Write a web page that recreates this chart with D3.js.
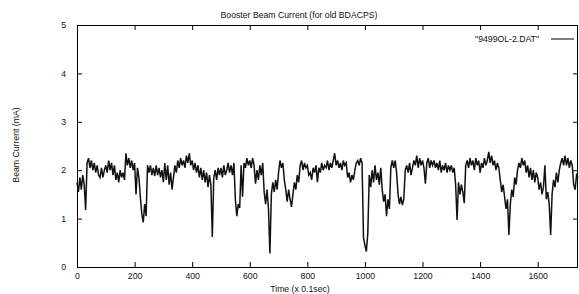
<!DOCTYPE html>
<html>
<head>
  <title>Booster Beam Current</title>
  <script src="https://cdn.jsdelivr.net/npm/d3@7.0.0/dist/d3.min.js"></script>
  <style>
    body { margin: 0; background: #fff; }
    text { font-family: "Liberation Sans", Arial, sans-serif; fill: #111; }
  </style>
</head>
<body>
  <div id="svgContainer"></div>

  <script>
    // Beam current (mA), one sample every 5 time units (x 0.1sec)
    var timeStep = 5;
    var current = [
      1.75, 1.55, 1.85, 1.6, 1.9, 1.7, 1.18, 2.15, 2.25, 2.05, 2.2, 2.0, 2.15, 1.95, 2.1, 1.9, 1.85, 2.05, 1.85, 2.0,
      2.1, 1.95, 2.2, 2.0, 2.15, 1.9, 2.1, 1.8, 1.95, 1.75, 2.0, 1.85, 1.95, 1.8, 2.35, 2.1, 2.25, 2.05, 2.2, 2.0,
      2.15, 1.5, 2.05, 1.85, 1.45, 1.1, 0.92, 1.3, 1.05, 2.1, 1.95, 2.1, 1.9, 2.05, 1.88, 2.1, 1.9, 2.05, 1.85, 2.0,
      1.75, 2.15, 1.8, 2.1, 1.7, 1.95, 1.6, 1.85, 2.1, 1.95, 2.2, 2.05, 2.25, 2.1, 2.2, 2.05, 2.3, 2.15, 2.35, 2.1,
      2.2, 2.0, 2.15, 1.95, 2.1, 1.85, 2.05, 1.8, 2.0, 1.75, 1.95, 1.65, 1.9, 1.7, 0.62, 1.85, 2.0, 1.8, 2.05, 1.9,
      2.05, 1.85, 2.1, 1.9, 2.0, 2.15, 1.95, 2.1, 1.9, 2.15, 1.4, 1.05, 1.3, 1.22, 2.1, 1.45, 2.15, 2.05, 2.25, 2.1,
      2.2, 2.05, 2.25, 2.1, 1.72, 2.0, 1.8, 2.1, 1.9, 2.15, 1.55, 1.3, 1.6, 1.2, 0.28, 1.5, 1.75, 1.55, 1.8, 1.6,
      1.95, 2.2, 2.05, 2.15, 1.8, 1.6, 1.35, 1.6, 1.4, 1.24, 1.5, 1.75, 1.6, 1.9, 1.75, 2.1, 2.2, 2.0, 2.15, 2.05,
      2.1, 1.9, 1.95, 1.8, 2.05, 1.95, 2.1, 1.75, 2.05, 1.95, 2.15, 2.0, 2.1, 2.05, 2.2, 2.0, 2.15, 2.05, 2.2, 2.35,
      2.1, 2.2, 2.05, 2.15, 2.0, 2.2, 2.1, 2.15, 1.85, 1.95, 1.75, 1.9, 1.8, 2.0, 2.15, 2.2, 2.1, 2.25, 2.15, 0.6,
      0.45, 0.32, 0.7, 1.9, 1.65, 2.0, 1.75, 2.1, 1.8, 1.95, 1.7, 2.05, 1.6, 1.35, 1.5, 1.05, 1.4, 1.2, 2.05, 2.2,
      2.05, 2.2, 1.95, 1.5, 1.3, 1.45, 1.28, 1.4, 2.0, 2.1, 1.95, 2.15, 1.9, 2.05, 2.2, 2.1, 2.3, 2.05, 2.25, 2.1,
      2.2, 2.05, 1.72, 2.15, 2.25, 2.05, 2.2, 2.1, 2.2, 2.05, 2.15, 2.0, 2.2, 1.95, 2.1, 2.0, 2.15, 1.95, 2.1, 2.0,
      2.1, 1.95, 2.05, 1.7, 0.97, 1.75, 1.5, 1.7, 1.55, 1.32, 2.1, 2.2, 2.05, 2.25, 2.1, 2.2, 2.0, 2.25, 2.1, 2.2,
      1.95, 2.15, 2.05, 2.25, 2.1, 2.2, 2.38, 2.15, 2.3, 2.1, 2.2, 2.0, 2.15, 2.05, 1.8, 1.55, 1.7, 1.45, 1.2, 1.4,
      0.66, 1.3, 1.6, 1.45, 1.85, 1.7, 2.0, 2.15, 2.05, 2.25, 2.1, 2.2, 1.95, 2.1, 1.85, 2.05, 1.8, 2.0, 1.75, 1.95,
      1.85, 1.6, 1.75, 1.5, 1.65, 2.1, 1.4, 1.55, 1.3, 0.66, 1.5, 1.8, 1.65, 1.95, 1.75, 2.0, 2.15, 2.25, 2.1, 2.3,
      2.1, 2.25, 2.05, 2.2, 2.1, 1.7, 1.6, 1.9, 1.85
    ];
    var xTicks = [0, 200, 400, 600, 800, 1000, 1200, 1400, 1600];
    var yTicks = [0, 1, 2, 3, 4, 5];
    var seriesName = '"9499OL-2.DAT"';

    var totalWidth = 579, totalHeight = 294;
    var margin = { top: 25, right: 1, bottom: 27, left: 77 };
    var width = totalWidth - margin.left - margin.right;
    var height = totalHeight - margin.top - margin.bottom;

    var root = d3.select("#svgContainer").append("svg")
      .attr("width", totalWidth)
      .attr("height", totalHeight);

    var svg = root.append("g")
      .attr("transform", "translate(" + margin.left + "," + margin.top + ")");

    var x = d3.scaleLinear().domain([0, (current.length - 1) * timeStep]).range([0, width]);
    var y = d3.scaleLinear().domain([0, 5]).range([height, 0]);

    // axes: gnuplot style, ticks pointing inward and mirrored
    var tick = 5;
    var fmt = d3.format("d");
    svg.append("g")
      .attr("transform", "translate(0," + height + ")")
      .call(d3.axisBottom(x).tickValues(xTicks).tickFormat(fmt).tickSize(-tick).tickSizeOuter(0).tickPadding(6));
    svg.append("g")
      .call(d3.axisTop(x).tickValues(xTicks).tickSize(-tick).tickSizeOuter(0).tickFormat(""));
    svg.append("g")
      .call(d3.axisLeft(y).tickValues(yTicks).tickFormat(fmt).tickSize(-tick).tickSizeOuter(0).tickPadding(11));
    svg.append("g")
      .attr("transform", "translate(" + width + ",0)")
      .call(d3.axisRight(y).tickValues(yTicks).tickSize(-tick).tickSizeOuter(0).tickFormat(""));

    svg.selectAll(".domain").remove();
    svg.selectAll(".tick line").attr("stroke", "#000");
    svg.selectAll(".tick text").attr("font-size", 8.7).attr("fill", "#111");

    svg.append("rect")
      .attr("x", 0.5).attr("y", 0.5)
      .attr("width", width - 1).attr("height", height)
      .attr("fill", "none")
      .attr("stroke", "#000");

    // the trace
    var line = d3.line()
      .x(function(d, i) { return x(i * timeStep); })
      .y(function(d) { return y(d); });

    svg.append("path")
      .datum(current)
      .attr("d", line)
      .attr("fill", "none")
      .attr("stroke", "#111")
      .attr("stroke-width", 1.5)
      .attr("stroke-linejoin", "miter");

    // legend
    var legend = svg.append("g").attr("transform", "translate(" + (width - 27) + ",14)");
    legend.append("text")
      .attr("x", -12).attr("y", 3)
      .attr("text-anchor", "end")
      .attr("font-size", 8.7)
      .text(seriesName);
    legend.append("line")
      .attr("x1", 0).attr("x2", 23)
      .attr("stroke", "#000");

    // title and axis labels
    root.append("text")
      .attr("x", 299).attr("y", 18)
      .attr("text-anchor", "middle")
      .attr("font-size", 8.7)
      .text("Booster Beam Current (for old BDACPS)");
    root.append("text")
      .attr("x", 300).attr("y", 292)
      .attr("text-anchor", "middle")
      .attr("font-size", 8.7)
      .text("Time (x 0.1sec)");
    root.append("text")
      .attr("transform", "translate(19,145) rotate(-90)")
      .attr("text-anchor", "middle")
      .attr("font-size", 8.7)
      .text("Beam Current (mA)");
  </script>
</body>
</html>
